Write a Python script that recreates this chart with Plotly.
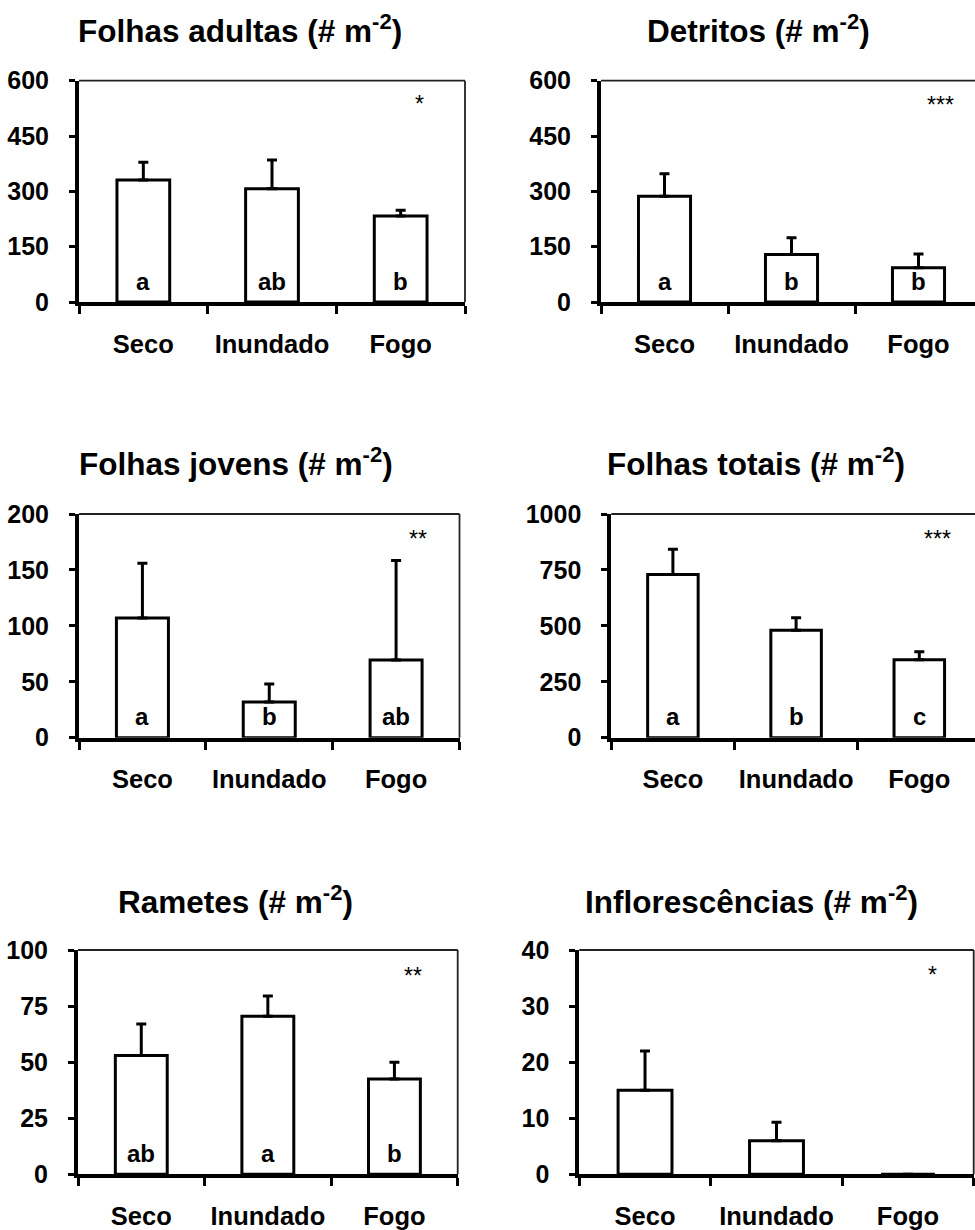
import plotly.graph_objects as go

W, H = 975, 1230

categories = ["Seco", "Inundado", "Fogo"]

titles = ["Folhas adultas", "Detritos", "Folhas jovens", "Folhas totais", "Rametes", "Inflorescências"]

folhas_adultas = [331, 307, 233]
folhas_adultas_err = [48, 78, 16]
detritos = [287, 129, 93]
detritos_err = [61, 45, 37]
folhas_jovens = [107, 32, 69.5]
folhas_jovens_err = [49, 16, 89]
folhas_totais = [729, 480, 349]
folhas_totais_err = [113, 56, 35]
rametes = [53, 70.5, 42.5]
rametes_err = [14, 9, 7.5]
inflorescencias = [15, 6, 0]
inflorescencias_err = [7, 3.3, 0]

letters = [["a", "ab", "b"], ["a", "b", "b"], ["a", "b", "ab"], ["a", "b", "c"], ["ab", "a", "b"], ["", "", ""]]
stars = ["*", "***", "**", "***", "**", "*"]

y_max = [600, 600, 200, 1000, 100, 40]
y_ticks = [[0, 150, 300, 450, 600], [0, 150, 300, 450, 600], [0, 50, 100, 150, 200],
           [0, 250, 500, 750, 1000], [0, 25, 50, 75, 100], [0, 10, 20, 30, 40]]

values = [folhas_adultas, detritos, folhas_jovens, folhas_totais, rametes, inflorescencias]
errors = [folhas_adultas_err, detritos_err, folhas_jovens_err, folhas_totais_err, rametes_err, inflorescencias_err]

# layout (pixels)
panels = [
    dict(x0=79, x1=465, yt=80.7, yb=302, cw=128.7, trunc=False, tx=240, ty=31),
    dict(x0=601, x1=975, yt=80.7, yb=302, cw=127, trunc=True, tx=758, ty=31),
    dict(x0=79, x1=459.5, yt=514, yb=737.7, cw=126.8, trunc=False, tx=236, ty=464),
    dict(x0=611.3, x1=975, yt=514, yb=737.7, cw=123.2, trunc=True, tx=756, ty=464),
    dict(x0=78, x1=457.7, yt=950, yb=1174.3, cw=126.6, trunc=False, tx=235, ty=902),
    dict(x0=579.3, x1=973.7, yt=950, yb=1174.3, cw=131.5, trunc=False, tx=751, ty=902),
]
star_pos = [(419, 99), (940, 100), (418, 534), (937, 534), (413, 971), (932, 970)]

FONT = "Arial, Liberation Sans, sans-serif"

fig = go.Figure()
annotations = []
shapes = []
layout_axes = {}

for i, p in enumerate(panels):
    n = i + 1
    xa = "x" if n == 1 else f"x{n}"
    ya = "y" if n == 1 else f"y{n}"
    fig.add_trace(go.Bar(
        x=categories, y=values[i], xaxis=xa, yaxis=ya, width=0.41,
        marker=dict(color="white", line=dict(color="black", width=3)),
        error_y=dict(type="data", array=errors[i], arrayminus=[0, 0, 0], symmetric=False,
                     thickness=3, width=5, color="black"),
        showlegend=False, hoverinfo="skip",
    ))
    if p["trunc"]:
        xr = [-0.5, -0.5 + (p["x1"] - p["x0"]) / p["cw"]]
    else:
        xr = [-0.5, 2.5]
    layout_axes[f"xaxis{'' if n == 1 else n}"] = dict(
        domain=[p["x0"] / W, p["x1"] / W], anchor=ya, type="category",
        categoryorder="array", categoryarray=categories, range=xr, automargin=False,
        tickson="boundaries", ticks="outside", ticklen=8, tickwidth=3, tickcolor="black",
        showline=True, linewidth=4, linecolor="black", showgrid=False, zeroline=False,
        tickfont=dict(family=FONT, size=25.5, color="black", weight="bold"),
        tickangle=0, ticklabelstandoff=16, fixedrange=True,
    )
    layout_axes[f"yaxis{'' if n == 1 else n}"] = dict(
        domain=[1 - p["yb"] / H, 1 - p["yt"] / H], anchor=xa, range=[0, y_max[i]],
        automargin=False,
        tickvals=y_ticks[i], ticks="outside", ticklen=6, tickwidth=3, tickcolor="black",
        showline=True, linewidth=4, linecolor="black", showgrid=False, zeroline=False,
        tickfont=dict(family=FONT, size=25, color="black", weight="bold"),
        ticklabelstandoff=15, fixedrange=True,
    )
    # thin frame (top + right)
    shapes.append(dict(type="line", xref=f"{xa} domain", yref=f"{ya} domain",
                       x0=0, x1=1, y0=1, y1=1, line=dict(color="#222", width=1.8)))
    if not p["trunc"]:
        shapes.append(dict(type="line", xref=f"{xa} domain", yref=f"{ya} domain",
                           x0=1, x1=1, y0=0, y1=1, line=dict(color="#222", width=1.8)))
    # letters
    for c, lab in zip(categories, letters[i]):
        if lab:
            annotations.append(dict(x=c, y=0, xref=xa, yref=ya, text=lab, showarrow=False,
                                    xanchor="center", yanchor="middle", yshift=21,
                                    font=dict(family=FONT, size=24, color="black", weight="bold")))
    # stars
    sx, sy = star_pos[i]
    annotations.append(dict(x=(sx - p["x0"]) / (p["x1"] - p["x0"]),
                            y=(p["yb"] - sy) / (p["yb"] - p["yt"]),
                            xref=f"{xa} domain", yref=f"{ya} domain", text=stars[i],
                            showarrow=False, xanchor="center", yanchor="middle", yshift=-5,
                            font=dict(family=FONT, size=23, color="black")))
    # title
    annotations.append(dict(x=p["tx"] / W, y=1 - p["ty"] / H, xref="paper", yref="paper",
                            text=f"{titles[i]} (# m<sup>-2</sup>)", showarrow=False,
                            xanchor="center", yanchor="middle", yshift=2,
                            font=dict(family=FONT, size=31.5, color="black", weight="bold")))

fig.update_layout(
    width=W, height=H, margin=dict(l=0, r=0, t=0, b=0, autoexpand=False),
    paper_bgcolor="white", plot_bgcolor="white",
    annotations=annotations, shapes=shapes, showlegend=False,
    **layout_axes,
)

fig.write_html("out.html", config={"displayModeBar": False})
